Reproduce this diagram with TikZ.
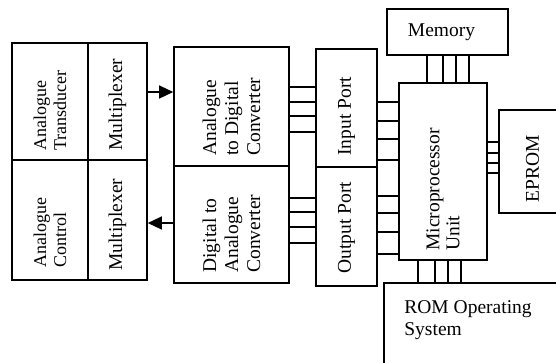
\documentclass[tikz,border=0pt]{standalone}
\usepackage{fontspec}
\setmainfont{Liberation Serif}
\usetikzlibrary{arrows.meta}

\begin{document}
\begin{tikzpicture}[x=1pt, y=-1pt,
    box/.style={draw, line width=1.6pt, inner sep=0pt},
    vtext/.style={rotate=90, anchor=west, align=left, inner sep=0pt},
    wire/.style={line width=1.3pt},
    arr/.style={line width=1.3pt, -{Triangle[length=14pt, width=13pt]}},
    every node/.style={font=\fontsize{19.5}{22}\selectfont}]
      \useasboundingbox (0,0) rectangle (556,362);
      \clip (0,0) rectangle (556,362);

      \node[box, minimum width=76pt, minimum height=117pt] (trans) at (50,101.5) {};
      \node[box, minimum width=59pt, minimum height=117pt] (muxa) at (117.5,101.5) {};
      \node[box, minimum width=76pt, minimum height=120pt] (ctrl) at (50,220) {};
      \node[box, minimum width=59pt, minimum height=120pt] (muxb) at (117.5,220) {};
      \node[box, minimum width=115pt, minimum height=119pt] (adc) at (231.5,106.5) {};
      \node[box, minimum width=115pt, minimum height=117pt] (dac) at (231.5,224.5) {};
      \node[box, minimum width=61pt, minimum height=118pt] (inp) at (346.5,108) {};
      \node[box, minimum width=61pt, minimum height=119pt] (outp) at (346.5,226.5) {};
      \node[box, minimum width=121pt, minimum height=46pt] (mem) at (447.5,32) {};
      \node[box, minimum width=88pt, minimum height=177pt] (mpu) at (443,171.5) {};
      \node[box, minimum width=67pt, minimum height=103pt] (eprom) at (532.5,161.5) {};
      \node[box, minimum width=186pt, minimum height=92pt] (rom) at (477,329) {};

      \node[vtext, font=\fontsize{18}{20}\selectfont] (transtxt) at ([yshift=10pt]trans.south) {Analogue\\Transducer};
      \node[vtext] (muxatxt) at ([yshift=10pt]muxa.south) {Multiplexer};
      \node[vtext, font=\fontsize{18}{20}\selectfont] (ctrltxt) at ([yshift=13pt]ctrl.south) {Analogue\\Control};
      \node[vtext] (muxbtxt) at ([yshift=10pt]muxb.south) {Multiplexer};
      \node[vtext] (adctxt) at ([yshift=11pt]adc.south) {Analogue\\to Digital\\Converter};
      \node[vtext] (dactxt) at ([yshift=11pt]dac.south) {Digital to\\Analogue\\Converter};
      \node[vtext] (inptxt) at ([yshift=12pt]inp.south) {Input Port};
      \node[vtext] (outptxt) at ([yshift=13pt]outp.south) {Output Port};
      \node[vtext, font=\fontsize{19.5}{20}\selectfont] (mputxt) at ([yshift=10pt]mpu.south) {Microprocessor\\Unit};
      \node[vtext] (epromtxt) at ([yshift=11pt]eprom.south) {EPROM};
      \node[inner sep=0pt] (memtxt) at ([xshift=-6pt]mem.center) {Memory};
      \node[anchor=north west, align=left, inner sep=0pt] (romtxt) at ([xshift=21pt, yshift=-18pt]rom.north west) {ROM Operating\\System};

      % multiplexers <-> converters
      \draw[arr] (muxa.east |- 0,92) -- (adc.west |- 0,92);
      \draw[arr] (dac.west |- 0,223) -- (muxb.east |- 0,223);

      % converters <-> ports
      \foreach \y in {87,102,116,132}
        \draw[wire] (adc.east |- 0,\y) -- (inp.west |- 0,\y);
      \foreach \y in {198,212,227,243}
        \draw[wire] (dac.east |- 0,\y) -- (outp.west |- 0,\y);

      % ports -> microprocessor
      \foreach \y in {102,121,139,160}
        \draw[wire] (inp.east |- 0,\y) -- (mpu.west |- 0,\y);
      \foreach \y in {196,213,232,254}
        \draw[wire] (outp.east |- 0,\y) -- (mpu.west |- 0,\y);

      % memory buses
      \foreach \x in {427,443,456,469}
        \draw[wire] (mem.south -| \x,0) -- (mpu.north -| \x,0);
      \foreach \y in {142,153,163,173}
        \draw[wire] (mpu.east |- 0,\y) -- (eprom.west |- 0,\y);
      \foreach \x in {418,435,448,461}
        \draw[wire] (mpu.south -| \x,0) -- (rom.north -| \x,0);
    \end{tikzpicture}
\end{document}
